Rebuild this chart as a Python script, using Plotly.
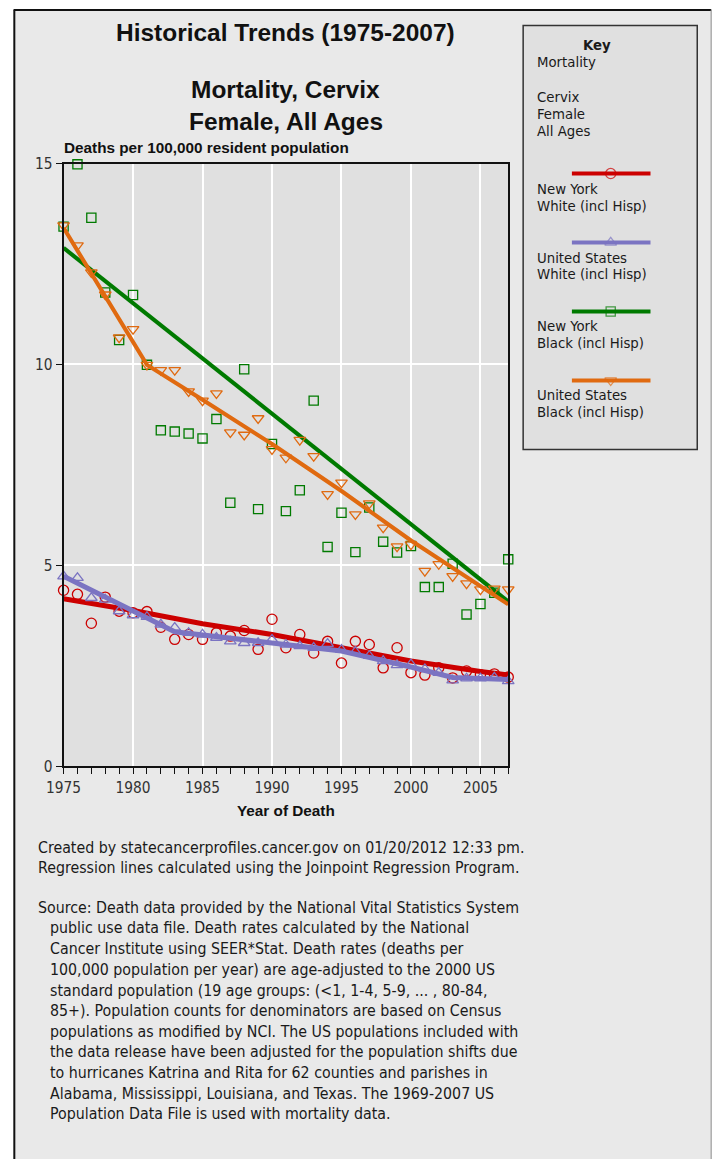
import plotly.graph_objects as go

# ---------------- data ----------------
years = [1975, 1976, 1977, 1978, 1979, 1980, 1981, 1982, 1983, 1984, 1985,
         1986, 1987, 1988, 1989, 1990, 1991, 1992, 1993, 1994, 1995, 1996,
         1997, 1998, 1999, 2000, 2001, 2002, 2003, 2004, 2005, 2006, 2007]

ny_white = [4.38, 4.28, 3.56, 4.21, 3.86, 3.82, 3.85, 3.46, 3.16, 3.28, 3.16,
            3.32, 3.24, 3.38, 2.91, 3.66, 2.95, 3.28, 2.82, 3.11, 2.57, 3.11,
            3.03, 2.45, 2.95, 2.33, 2.27, 2.45, 2.20, 2.37, 2.28, 2.30, 2.22]
us_white = [4.73, 4.69, 4.19, 4.15, 3.86, 3.76, 3.72, 3.53, 3.45, 3.32, 3.28,
            3.20, 3.11, 3.07, 3.07, 3.15, 3.03, 2.99, 2.95, 3.05, 2.90, 2.85,
            2.75, 2.62, 2.52, 2.54, 2.42, 2.33, 2.14, 2.19, 2.19, 2.21, 2.12]
ny_black = [13.43, 14.98, 13.65, 11.79, 10.61, 11.73, 9.99, 8.36, 8.33, 8.28, 8.16,
            8.64, 6.56, 9.88, 6.40, 8.02, 6.35, 6.87, 9.10, 5.46, 6.31, 5.33,
            6.44, 5.59, 5.32, 5.48, 4.46, 4.46, 5.04, 3.78, 4.04, 4.32, 5.15]
us_black = [13.46, 12.96, 12.29, 11.74, 10.67, 10.88, 9.99, 9.86, 9.86, 9.33, 9.10,
            9.28, 8.31, 8.25, 8.66, 7.89, 7.68, 8.12, 7.72, 6.77, 7.06, 6.27,
            6.54, 5.94, 5.47, 5.52, 4.86, 5.03, 4.73, 4.55, 4.40, 4.42, 4.40]

# Joinpoint regression lines (fitted values read at segment points)
ny_white_fit_years = [1975, 1980, 1985, 1990, 1995, 2000, 2005, 2007]
ny_white_fit = [4.17, 3.88, 3.55, 3.28, 2.95, 2.62, 2.36, 2.27]
us_white_fit_years = [1975, 1980, 1983, 1990, 1995, 2000, 2003, 2007]
us_white_fit = [4.73, 3.85, 3.35, 3.07, 2.87, 2.47, 2.21, 2.16]
ny_black_fit_years = [1975, 2007]
ny_black_fit = [12.90, 4.10]
us_black_fit_years = [1975, 1981, 1985, 1990, 1995, 2000, 2007]
us_black_fit = [13.40, 9.99, 9.12, 8.02, 6.85, 5.62, 4.03]

x_ticks = [1975, 1980, 1985, 1990, 1995, 2000, 2005]
y_ticks = [0, 5, 10, 15]

series_names = ["New York<br>White (incl Hisp)", "United States<br>White (incl Hisp)",
                "New York<br>Black (incl Hisp)", "United States<br>Black (incl Hisp)"]

# ---------------- styles / layout geometry ----------------
RED, PURPLE, GREEN, ORANGE = "#cc0000", "#7b74c2", "#007a00", "#e06a10"
HEAD = "Liberation Sans, Arial, sans-serif"
BODY = "DejaVu Sans Condensed, DejaVu Sans, sans-serif"

W, H = 717, 1170
# the photographed page is drawn slightly scaled/offset; positions below are
# given in target-picture pixels and mapped into figure pixels
SX, SY, OX, OY = 0.98, 0.985, 16.2, 7.4
S = 1 / SX

def fx(x):
    return (x - OX) / SX

def fy(y):
    return (y - OY) / SY

def px(x):
    return fx(x) / W

def py(y):
    return 1 - fy(y) / H

PLOT_L, PLOT_R, PLOT_T, PLOT_B = 62, 509, 162, 765

fig = go.Figure()

styles = [
    (ny_white, ny_white_fit_years, ny_white_fit, RED, "circle-open", 10, 5),
    (us_white, us_white_fit_years, us_white_fit, PURPLE, "triangle-up-open", 10, 5),
    (ny_black, ny_black_fit_years, ny_black_fit, GREEN, "square-open", 9, 4),
    (us_black, us_black_fit_years, us_black_fit, ORANGE, "triangle-down-open", 10, 4),
]

for vals, fyr, fv, col, sym, msize, lw in styles:
    fig.add_trace(go.Scatter(x=years, y=vals, mode="markers",
                             marker=dict(symbol=sym, size=msize * S, color=col,
                                         line=dict(color=col, width=1.3)),
                             cliponaxis=False, showlegend=False, hoverinfo="skip"))
    fig.add_trace(go.Scatter(x=fyr, y=fv, mode="lines",
                             line=dict(color=col, width=lw * S),
                             cliponaxis=False, showlegend=False, hoverinfo="skip"))

# ---------------- key (legend) samples on a pixel overlay axis ----------------
key_rows = [172, 241, 310, 379]
for (vals, fyr, fv, col, sym, msize, lw), ky in zip(styles, key_rows):
    fig.add_trace(go.Scatter(x=[fx(573), fx(612), fx(652)], y=[fy(ky)] * 3, mode="lines+markers",
                             line=dict(color=col, width=4 * S),
                             marker=dict(symbol=sym, size=[0, msize * S, 0], color=col,
                                         line=dict(color=col, width=1.3)),
                             xaxis="x2", yaxis="y2", cliponaxis=False,
                             showlegend=False, hoverinfo="skip"))

shapes = [
    dict(type="rect", xref="paper", yref="paper", x0=px(12), x1=px(713), y0=py(1200), y1=py(8),
         fillcolor="#e9e9e9", line=dict(width=0), layer="below"),
    dict(type="rect", xref="paper", yref="paper", x0=px(PLOT_L), x1=px(PLOT_R), y0=py(PLOT_B), y1=py(PLOT_T),
         fillcolor="#e0e0e0", line=dict(width=0), layer="below"),
    dict(type="line", xref="paper", yref="paper", x0=px(12.5), x1=px(12.5), y0=py(1200), y1=py(8),
         line=dict(color="#111111", width=2), layer="below"),
    dict(type="line", xref="paper", yref="paper", x0=px(12), x1=px(713), y0=py(8.5), y1=py(8.5),
         line=dict(color="#111111", width=2), layer="below"),
    dict(type="line", xref="paper", yref="paper", x0=px(713), x1=px(713), y0=py(1200), y1=py(8),
         line=dict(color="#8a8a8a", width=1), layer="below"),
    dict(type="rect", xref="paper", yref="paper", x0=px(524), x1=px(699), y0=py(448), y1=py(24),
         fillcolor="#e0e0e0", line=dict(color="#333333", width=1.5), layer="below"),
]

annotations = []

def text(x, y, s, size, family=BODY, xanchor="left", color="#1a1a1a"):
    annotations.append(dict(x=px(x), y=py(y), xref="paper", yref="paper", text=s,
                            showarrow=False, xanchor=xanchor, yanchor="middle",
                            font=dict(family=family, size=size * S, color=color), align="left"))

# titles
text(285.5, 31, "<b>Historical Trends (1975-2007)</b>", 24, HEAD, "center", "#111111")
text(285.5, 88, "<b>Mortality, Cervix</b>", 24, HEAD, "center", "#111111")
text(285.5, 120, "<b>Female, All Ages</b>", 24, HEAD, "center", "#111111")
text(60, 146, "<b>Deaths per 100,000 resident population</b>", 15, HEAD, "left", "#111111")
text(285.5, 809, "<b>Year of Death</b>", 15, HEAD, "center", "#111111")

# key texts
text(598.5, 43, "<b>Key</b>", 14.5, BODY, "center")
text(535.5, 60, "Mortality", 14.5)
text(535.5, 95, "Cervix", 14.5)
text(535.5, 112, "Female", 14.5)
text(535.5, 129, "All Ages", 14.5)
for name, ky in zip(series_names, key_rows):
    l1, l2 = name.split("<br>")
    text(535.5, ky + 14.5, l1, 14.5)
    text(535.5, ky + 31.5, l2, 14.5)

# footer
footer = [
    (34.5, 846.0, "Created by statecancerprofiles.cancer.gov on 01/20/2012 12:33 pm."),
    (34.5, 866.0, "Regression lines calculated using the Joinpoint Regression Program."),
    (34.5, 906.0, "Source: Death data provided by the National Vital Statistics System"),
    (46.5, 926.7, "public use data file. Death rates calculated by the National"),
    (46.5, 947.6, "Cancer Institute using SEER*Stat. Death rates (deaths per"),
    (46.5, 968.3, "100,000 population per year) are age-adjusted to the 2000 US"),
    (46.5, 989.3, "standard population (19 age groups: (&lt;1, 1-4, 5-9, ... , 80-84,"),
    (46.5, 1009.3, "85+). Population counts for denominators are based on Census"),
    (46.5, 1030.0, "populations as modified by NCI. The US populations included with"),
    (46.5, 1050.3, "the data release have been adjusted for the population shifts due"),
    (46.5, 1071.0, "to hurricanes Katrina and Rita for 62 counties and parishes in"),
    (46.5, 1092.0, "Alabama, Mississippi, Louisiana, and Texas. The 1969-2007 US"),
    (46.5, 1112.6, "Population Data File is used with mortality data."),
]
for x, y, s in footer:
    text(x, y, s, 15.5)

tickfont = dict(family=BODY, size=15 * S, color="#333333")

fig.update_layout(
    width=W, height=H, autosize=False,
    margin=dict(l=0, r=0, t=0, b=0, pad=0),
    paper_bgcolor="white", plot_bgcolor="rgba(0,0,0,0)",
    showlegend=False,
    shapes=shapes, annotations=annotations,
    xaxis=dict(domain=[px(PLOT_L), px(PLOT_R)], range=[1975, 2007], anchor="y",
               tickvals=x_ticks, ticks="outside", ticklen=6, tickcolor="#111111", tickwidth=1,
               minor=dict(tickvals=years, ticks="outside", ticklen=6, tickcolor="#111111",
                          tickwidth=1, showgrid=False),
               showgrid=True, gridcolor="white", gridwidth=1.5,
               showline=True, linecolor="#111111", linewidth=2, mirror=True,
               zeroline=False, tickfont=tickfont, fixedrange=True),
    yaxis=dict(domain=[py(PLOT_B), py(PLOT_T)], range=[0, 15], anchor="x",
               tickvals=y_ticks, ticks="outside", ticklen=6, tickcolor="#111111", tickwidth=1,
               showgrid=True, gridcolor="white", gridwidth=1.5,
               showline=True, linecolor="#111111", linewidth=2, mirror=True,
               zeroline=False, tickfont=tickfont, fixedrange=True),
    xaxis2=dict(domain=[0, 1], range=[0, W], anchor="y2", visible=False, fixedrange=True),
    yaxis2=dict(domain=[0, 1], range=[H, 0], anchor="x2", visible=False, fixedrange=True),
)

fig.write_html("out.html", config={"displayModeBar": False},
               post_script="document.body.style.margin='0';document.body.style.overflow='hidden';")
